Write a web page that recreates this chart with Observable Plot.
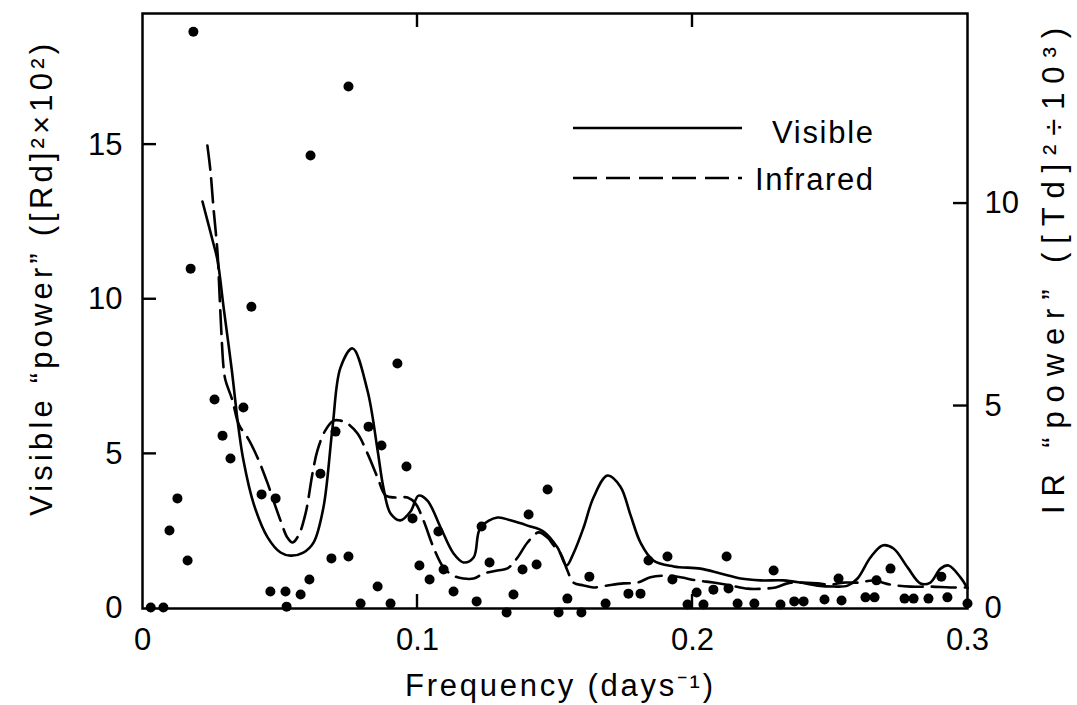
<!DOCTYPE html>
<html>
<head>
<meta charset="utf-8">
<script src="https://cdn.jsdelivr.net/npm/d3@7"></script>
<script src="https://cdn.jsdelivr.net/npm/@observablehq/plot@0.6"></script>
<style>
  html, body { margin: 0; padding: 0; background: #fff; }
  #chart { position: relative; width: 1077px; height: 705px; }
</style>
</head>
<body>
<div id="chart"></div>
<script>
// ---- Data ----
// Periodogram points (visible power, left axis units)
const dotFreq = [0.003,0.0076,0.0098,0.0127,0.0164,0.0175,0.0185,0.0262,0.0291,0.032,0.0367,0.0396,0.0433,0.0465,0.0484,0.052,0.0524,0.0575,0.0607,0.0611,0.0647,0.0687,0.0702,0.0749,0.0749,0.0793,0.0822,0.0855,0.0869,0.0902,0.0927,0.096,0.0982,0.1007,0.1044,0.1076,0.1095,0.1131,0.1215,0.1233,0.1262,0.1324,0.1349,0.1382,0.1404,0.1433,0.1473,0.1513,0.1545,0.1596,0.1625,0.1684,0.1767,0.1811,0.184,0.1909,0.1927,0.1982,0.2015,0.204,0.2076,0.2124,0.2131,0.2164,0.2225,0.2295,0.232,0.237,0.2404,0.248,0.2531,0.2542,0.2629,0.2662,0.2669,0.272,0.2771,0.2804,0.2858,0.2905,0.2927,0.3];
const dotPower = [0.03,0.03,2.52,3.56,1.55,10.99,18.65,6.76,5.59,4.85,6.50,9.76,3.69,0.55,3.56,0.55,0.06,0.45,0.94,14.65,4.36,1.62,5.72,16.88,1.68,0.16,5.88,0.71,5.27,0.16,7.92,4.59,2.91,1.39,0.94,2.49,1.26,0.55,0.23,2.65,1.49,-0.13,0.45,1.26,3.04,1.42,3.85,-0.13,0.32,-0.13,1.03,0.16,0.48,0.48,1.55,1.68,0.94,0.13,0.52,0.13,0.61,1.68,0.65,0.16,0.16,1.23,0.13,0.23,0.23,0.29,0.97,0.26,0.36,0.36,0.91,1.29,0.32,0.32,0.32,1.03,0.36,0.16];

// Visible smoothed spectrum (solid, left axis)
const visFreq = [0.0218,0.0255,0.0273,0.0295,0.0324,0.0349,0.0367,0.0404,0.0455,0.0502,0.0538,0.0585,0.0622,0.0658,0.0691,0.072,0.0764,0.0818,0.0855,0.0876,0.0902,0.0938,0.0975,0.1004,0.1036,0.1084,0.1131,0.1167,0.1204,0.1229,0.1291,0.1338,0.14,0.1458,0.1509,0.1542,0.1567,0.1604,0.164,0.1691,0.1738,0.1775,0.1811,0.1858,0.1931,0.2029,0.2102,0.2175,0.2247,0.2331,0.2393,0.2455,0.2513,0.2564,0.26,0.2647,0.2691,0.2731,0.2782,0.2829,0.2865,0.2902,0.2931,0.2975,0.3];
const visPower = [13.16,11.90,11.25,9.73,7.76,5.85,4.79,3.39,2.30,1.81,1.71,1.81,2.13,3.27,5.85,7.79,8.41,7.05,5.11,3.91,3.07,2.85,3.14,3.65,3.49,2.62,1.78,1.49,1.65,2.62,2.94,2.85,2.68,2.49,1.97,1.39,1.78,2.62,3.59,4.30,3.94,3.01,2.13,1.55,1.36,1.29,1.13,0.97,0.91,0.91,0.84,0.74,0.71,0.74,0.97,1.65,2.04,1.94,1.33,0.81,0.84,1.29,1.39,1.00,0.65];

// Infrared smoothed spectrum (dashed, right axis units)
const irFreq = [0.0236,0.0247,0.0258,0.0273,0.028,0.0287,0.0295,0.0302,0.0327,0.0345,0.0356,0.0382,0.0418,0.0455,0.0476,0.0502,0.0527,0.0545,0.0567,0.0593,0.0618,0.0636,0.0665,0.0695,0.072,0.0745,0.0782,0.0818,0.0855,0.0884,0.092,0.0964,0.0993,0.1022,0.1058,0.1095,0.1131,0.1167,0.1204,0.124,0.1291,0.1327,0.1364,0.14,0.144,0.1473,0.1495,0.152,0.1545,0.1567,0.1604,0.164,0.1691,0.1749,0.18,0.1847,0.1909,0.1956,0.2018,0.2076,0.2138,0.22,0.2258,0.2302,0.2345,0.2393,0.2455,0.2502,0.2549,0.26,0.2658,0.272,0.2793,0.2865,0.2938,0.3];
const irPower = [11.43,10.81,9.90,8.77,7.78,6.79,5.93,5.63,5.14,4.64,4.47,4.22,3.73,3.09,2.67,2.17,1.75,1.63,1.80,2.35,3.33,3.90,4.40,4.64,4.64,4.57,4.32,3.83,3.23,2.79,2.74,2.74,2.59,2.17,1.51,1.01,0.81,0.74,0.74,0.86,0.94,0.99,1.26,1.63,1.88,1.75,1.56,1.36,0.94,0.64,0.57,0.52,0.57,0.62,0.64,0.77,0.81,0.77,0.69,0.64,0.57,0.49,0.49,0.52,0.62,0.64,0.62,0.59,0.64,0.64,0.69,0.59,0.54,0.54,0.52,0.52];

// Axis ticks
const xTicks = [0, 0.1, 0.2, 0.3];
const xInnerTicks = [0.1, 0.2];
const leftTicks = [0, 5, 10, 15];
const leftInnerTicks = [5, 10, 15];
const irTicks = [0, 5, 10];
const irInnerTicks = [5, 10];

// Labels
const xLabel = "Frequency (days⁻¹)";
const leftLabel = "Visible “power” ([Rd]²×10²)";
const rightLabel = "IR “power” ([Td]²÷10³)";
const legendLabels = ["Visible", "Infrared"];

// Right axis unit -> left axis unit
const IR_K = 1.3094;

// ---- Tables ----
const dots = dotFreq.map((f, i) => ({f, p: dotPower[i]}));
const vis = visFreq.map((f, i) => ({f, p: visPower[i]}));
const ir = irFreq.map((f, i) => ({f, p: irPower[i]}));

const font = "'Liberation Sans', Arial, Helvetica, sans-serif";

const chart = Plot.plot({
  width: 1077, height: 705,
  marginLeft: 142, marginRight: 110, marginTop: 13, marginBottom: 97,
  style: {background: "#fff", color: "#000", fontFamily: font, fontSize: "31px"},
  x: {domain: [0, 0.3]},
  y: {domain: [0, 19.24]},
  marks: [
    // tick labels
    Plot.axisX({anchor: "bottom", ticks: xTicks, tickSize: 0, tickPadding: 19, fontSize: 31, label: null, tickFormat: d => d === 0 ? "0" : String(d)}),
    Plot.axisY({anchor: "left", ticks: leftTicks, tickSize: 0, tickPadding: 20, fontSize: 31, label: null}),
    Plot.axisY({anchor: "right", ticks: irTicks.map(d => d * IR_K), tickSize: 0, tickPadding: 17, fontSize: 31, label: null, tickFormat: d => String(Math.round(d / IR_K))}),
    // axis titles
    Plot.text([xLabel], {frameAnchor: "bottom", dx: 4, dy: 78, fontSize: 31, textAnchor: "middle", lineAnchor: "middle"}),
    Plot.text([leftLabel], {frameAnchor: "left", rotate: -90, dx: -100, dy: -31, fontSize: 31, textAnchor: "middle", lineAnchor: "middle"}),
    Plot.text([rightLabel], {frameAnchor: "right", rotate: -90, dx: 87, dy: -40, fontSize: 31, textAnchor: "middle", lineAnchor: "middle"}),
    // data
    Plot.line(vis, {x: "f", y: "p", curve: "catmull-rom", stroke: "#000", strokeWidth: 2.6}),
    Plot.line(ir, {x: "f", y: d => d.p * IR_K, curve: "catmull-rom", stroke: "#000", strokeWidth: 2.6, strokeDasharray: "24,9"}),
    Plot.dot(dots, {x: "f", y: "p", r: 5, fill: "#000", stroke: "none"}),
    Plot.frame({stroke: "#000", strokeWidth: 2.5})
  ]
});

document.getElementById("chart").appendChild(chart);
const svg = d3.select(chart);

// Inward tick marks, placed through the chart's own scales
const sx = chart.scale("x"), sy = chart.scale("y");
const X0 = sx.apply(0.0), X1 = sx.apply(0.3);
const Y0 = sy.apply(0), Y1 = sy.apply(19.24);
const TL = 14;
const tg = svg.append("g").attr("class", "inner-ticks");
function tick(xa, ya, xb, yb) {
  tg.append("line").attr("x1", xa).attr("y1", ya).attr("x2", xb).attr("y2", yb)
    .style("stroke", "#000").style("stroke-width", "2.4px");
}
xInnerTicks.forEach(v => { const px = sx.apply(v); tick(px, Y0, px, Y0 - TL); tick(px, Y1, px, Y1 + TL); });
leftInnerTicks.forEach(v => { const py = sy.apply(v); tick(X0, py, X0 + TL, py); });
irInnerTicks.forEach(v => { const py = sy.apply(v * IR_K); tick(X1, py, X1 - TL, py); });

// Stretch titles to the reference's wide tracking
const lengths = new Map([[xLabel, 308], [leftLabel, 472], [rightLabel, 486]]);
svg.selectAll("text").each(function() {
  const t = this.textContent;
  if (lengths.has(t)) d3.select(this).attr("textLength", lengths.get(t)).attr("lengthAdjust", "spacing");
});

// Legend (inside the plot, upper right)
const lg = svg.append("g").attr("class", "legend");
const legendRows = [
  {label: legendLabels[0], y: 128, dash: null, tl: 101, ty: 143},
  {label: legendLabels[1], y: 178, dash: "24,9", tl: 118, ty: 190}
];
legendRows.forEach(r => {
  lg.append("line").attr("x1", 573).attr("x2", 742).attr("y1", r.y).attr("y2", r.y)
    .attr("stroke", "#000").attr("stroke-width", 2.6).attr("stroke-dasharray", r.dash);
  lg.append("text").attr("x", 873).attr("y", r.ty).attr("text-anchor", "end")
    .attr("font-family", font).attr("font-size", 31)
    .attr("textLength", r.tl).attr("lengthAdjust", "spacing").text(r.label);
});
</script>
</body>
</html>
